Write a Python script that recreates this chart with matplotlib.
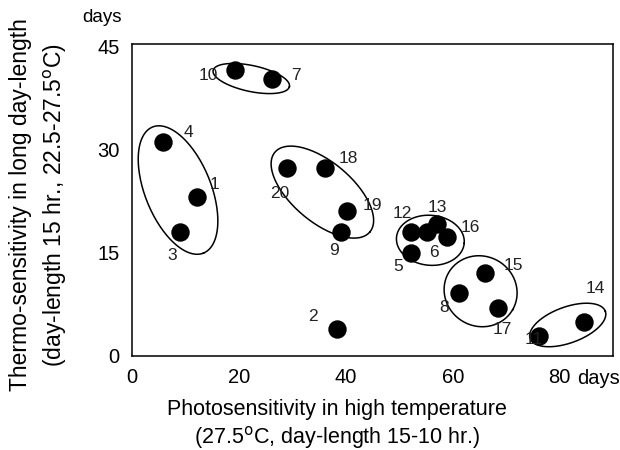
import numpy as np
import matplotlib
matplotlib.use('Agg')
import matplotlib.pyplot as plt

plt.rcParams['font.family'] = ['Liberation Sans', 'DejaVu Sans']

# line numbers and their two sensitivities (days)
ids = ['10', '7', '4', '1', '3', '20', '18', '19', '9', '2',
       '12', '6', '13', '16', '5', '15', '8', '17', '14', '11']
photo = [19.3, 26.2, 5.8, 12.2, 9.0, 29.0, 36.0, 40.3, 39.1, 38.4,
         52.1, 55.1, 57.1, 59.0, 52.1, 66.1, 61.2, 68.4, 84.5, 76.2]
thermo = [41.5, 40.3, 31.1, 23.1, 18.0, 27.3, 27.3, 21.0, 18.0, 3.9,
          18.0, 18.0, 19.2, 17.3, 14.9, 12.0, 9.1, 7.0, 4.9, 2.9]
# label offsets in pixels (dx right, dy up)
lab_off = [(-27, -5), (24, 3), (25, 9), (17, 12), (-8, -23), (-7, -25),
           (24, 10), (25, 6), (-7, -18), (-24, 13), (-8, 19), (7, -20),
           (0, 16), (23, 9), (-12, -13), (28, 8), (-15, -14), (5, -22),
           (12, 34), (-6, -4)]

# group outlines: centre (data), semi axes (px), angle (deg, px space)
groups = [((22.3, 40.3), 39, 13, -12),
          ((8.6, 24.1), 68, 33, -68),
          ((35.6, 23.8), 62, 30, -40),
          ((55.8, 16.8), 34, 25, -5),
          ((65.2, 9.4), 37, 35, -30),
          ((81.5, 4.5), 40, 18, 20)]

xticks = [0, 20, 40, 60, 80]
yticks = [0, 15, 30, 45]
xmax, ymax = 90, 45.3

fig = plt.figure(figsize=(6.2, 4.5), dpi=100)
ax = fig.add_axes([0.213, 0.209, 0.776, 0.693])
ax.set_xlim(0, xmax)
ax.set_ylim(0, ymax)

sx = 620 * 0.776 / xmax
sy = 450 * 0.693 / ymax

t = np.linspace(0, 2 * np.pi, 200)
for (cx, cy), a, b, ang in groups:
    th = np.radians(ang)
    px = a * np.cos(t) * np.cos(th) - b * np.sin(t) * np.sin(th)
    py = a * np.cos(t) * np.sin(th) + b * np.sin(t) * np.cos(th)
    ax.plot(cx + px / sx, cy + py / sy, color='black', lw=1.1)

ax.scatter(photo, thermo, s=150, color='black', zorder=3)

for name, x, y, (dx, dy) in zip(ids, photo, thermo, lab_off):
    ax.annotate(name, (x, y), xytext=(dx, dy), textcoords='offset pixels',
                ha='center', va='center', fontsize=12.5, color='#222222')

ax.set_xticks(xticks)
ax.set_xticklabels([str(v) for v in xticks])
ax.set_yticks(yticks)
ax.tick_params(length=0, labelsize=14.5, pad=9)
for s in ax.spines.values():
    s.set_linewidth(1.1)

fig.text(577 / 620, 1 - 379 / 450, 'days', ha='left', va='center', fontsize=14.5)
fig.text(122 / 620, 1 - 18 / 450, 'days', ha='right', va='center', fontsize=13.5)

fig.text(337 / 620, 1 - 409 / 450, 'Photosensitivity in high temperature',
         ha='center', va='center', fontsize=15.5)
fig.text(337 / 620, 1 - 437 / 450, '(27.5$^{\\mathrm{o}}$C, day-length 15-10 hr.)',
         ha='center', va='center', fontsize=15.5)
fig.text(21 / 620, 1 - 205 / 450, 'Thermo-sensitivity in long day-length',
         ha='center', va='center', rotation=90, fontsize=16.5)
fig.text(55 / 620, 1 - 205 / 450, '(day-length 15 hr., 22.5-27.5$^{\\mathrm{o}}$C)',
         ha='center', va='center', rotation=90, fontsize=16.5)

fig.savefig('out.png', dpi=100)
